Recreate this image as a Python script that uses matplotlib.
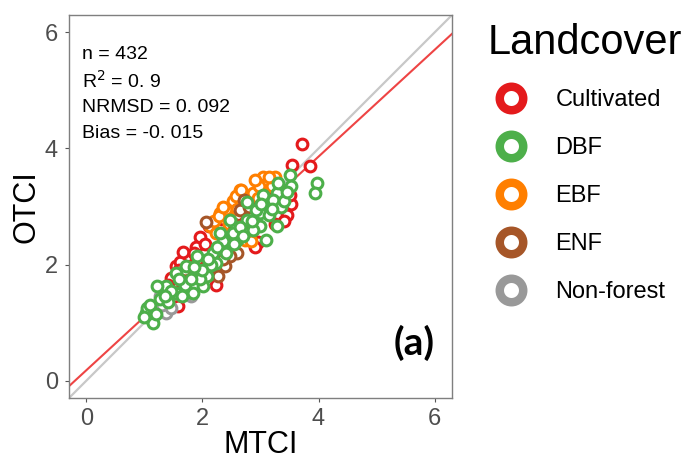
import matplotlib.pyplot as plt
from matplotlib.lines import Line2D

plt.rcParams['font.family'] = ['Liberation Sans', 'DejaVu Sans']

# --- data ---
cult_x = [3.72, 3.55, 3.86, 1.95, 1.74, 1.54, 1.45, 2.24, 2.95, 3.52, 3.45, 2.72, 2.34, 2.12,
          1.62, 1.35, 1.48, 2.45, 2.80, 3.10, 1.88, 2.60, 3.30, 1.70, 2.05, 3.40, 1.25, 2.50,
          1.66, 1.57, 1.30, 1.60, 1.85, 2.05, 3.25, 3.50, 2.90, 1.40]
cult_y = [4.07, 3.72, 3.70, 2.47, 2.15, 1.97, 1.77, 1.64, 2.38, 3.05, 2.86, 3.08, 2.78, 2.66,
          2.05, 1.55, 1.38, 2.60, 2.50, 3.20, 2.30, 2.85, 3.30, 1.80, 1.95, 2.75, 1.25, 2.20,
          2.21, 1.29, 1.45, 1.90, 2.20, 2.35, 2.70, 3.20, 2.30, 1.65]

ebf_x = [3.05, 3.25, 3.12, 2.64, 2.87, 2.53, 2.30, 2.13, 2.76, 2.24, 2.73, 2.84, 2.98, 2.58,
         2.40, 2.20, 2.95, 3.20, 2.67, 2.29, 2.45, 2.35, 2.60, 2.90, 3.15, 2.50, 2.80]
ebf_y = [3.51, 3.51, 3.40, 3.29, 3.23, 3.09, 2.89, 2.66, 3.00, 2.54, 2.43, 2.41, 3.35, 3.18,
         2.95, 2.75, 3.15, 3.35, 3.29, 2.84, 2.70, 3.00, 2.95, 3.45, 3.50, 2.55, 2.75]

enf_x = [2.06, 2.64, 2.72, 2.64, 2.59, 2.39, 2.27, 1.84, 1.95, 2.47, 2.70, 2.85, 1.70, 2.50,
         3.00, 1.65, 2.15, 2.35, 2.55, 2.80]
enf_y = [2.74, 2.94, 3.11, 2.54, 2.20, 1.97, 1.80, 1.86, 1.82, 2.14, 2.60, 2.85, 1.90, 2.35,
         3.05, 1.70, 1.95, 2.10, 2.70, 3.00]

nonf_x = [1.26, 1.38, 1.81, 1.15, 1.30, 1.60, 1.10, 1.45, 1.75]
nonf_y = [1.46, 1.17, 1.46, 1.11, 1.30, 1.50, 1.20, 1.25, 1.50]

dbf_x = [3.97, 3.94, 3.50, 3.52, 3.28, 3.22, 3.35, 3.28, 3.10, 2.99, 2.99, 2.87, 2.93, 2.76,
         2.76, 2.60, 2.53, 2.47, 2.24, 2.18, 2.07, 2.01, 1.84, 1.90, 1.72, 1.55, 1.38, 1.21,
         1.26, 1.03, 1.12, 1.15, 1.55, 1.70, 2.35, 3.05, 3.40, 2.15, 1.95, 2.30, 1.05, 1.40,
         3.15, 2.65, 1.10, 1.20, 1.45, 1.65, 1.80, 2.00, 2.10, 2.25, 2.40, 2.55, 2.70, 2.85,
         3.00, 3.20, 3.45, 3.30, 1.60, 1.35, 1.00, 1.85]
dbf_y = [3.40, 3.24, 3.54, 3.35, 3.23, 3.11, 3.00, 2.66, 2.43, 2.66, 2.89, 2.60, 2.94, 3.07,
         2.77, 2.43, 2.54, 2.77, 2.03, 2.20, 1.80, 1.63, 1.51, 2.14, 1.97, 1.86, 1.63, 1.63,
         1.40, 1.17, 1.06, 1.00, 1.51, 1.65, 2.40, 3.20, 3.10, 2.00, 1.75, 2.55, 1.25, 1.35,
         2.85, 2.65, 1.30, 1.15, 1.55, 1.45, 1.75, 1.90, 2.10, 2.30, 2.20, 2.35, 2.50, 2.75,
         3.05, 2.95, 3.25, 3.40, 1.75, 1.45, 1.10, 1.95]

landcovers = ['Cultivated', 'DBF', 'EBF', 'ENF', 'Non-forest']
colours = ['#E41A1C', '#4DAF4A', '#FF7F00', '#A65628', '#999999']

fit_slope, fit_icpt = 0.92, 0.18
stats = ['n = 432', r'R$^2$ = 0. 9', 'NRMSD = 0. 092', 'Bias = -0. 015']

# --- figure ---
fig = plt.figure(figsize=(6.97, 4.62), dpi=100)
ax = fig.add_axes([0.099, 0.1385, 0.5495, 0.829])

ax.axline((0, 0), slope=1, color='#C8C8C8', lw=1.6, zorder=1)
ax.axline((0, fit_icpt), slope=fit_slope, color='#EE4444', lw=1.5, zorder=1)

sets = {'Cultivated': (cult_x, cult_y), 'EBF': (ebf_x, ebf_y), 'ENF': (enf_x, enf_y),
        'Non-forest': (nonf_x, nonf_y), 'DBF': (dbf_x, dbf_y)}
for nimi, (xs, ys) in sets.items():
    c = colours[landcovers.index(nimi)]
    ax.scatter(xs, ys, s=60, facecolors='white', edgecolors=c, linewidths=2.2, zorder=2)

ax.set_xlim(-0.3, 6.3)
ax.set_ylim(-0.3, 6.3)
ax.set_xticks([0, 2, 4, 6])
ax.set_yticks([0, 2, 4, 6])
ax.tick_params(colors='#555555', labelcolor='#4D4D4D', labelsize=17, length=3, width=0.8)
ax.tick_params(axis='x', pad=4)
ax.tick_params(axis='y', pad=5)
for s in ax.spines.values():
    s.set_color('#7F7F7F')
    s.set_linewidth(1.0)
ax.set_xlabel('MTCI', fontsize=22, labelpad=0)
ax.set_ylabel('OTCI', fontsize=22, labelpad=2)

for i, t in enumerate(stats):
    ax.text(0.034, 0.898 - i * 0.0695, t, transform=ax.transAxes, fontsize=14, va='center')
ax.text(0.90, 0.144, '(a)', transform=ax.transAxes, fontsize=28, fontweight='bold',
        family='Lato', ha='center', va='center')

handles = [Line2D([], [], ls='none', marker='o', markersize=16.9, mfc='white', mec=c, mew=6.1)
           for c in colours]
leg = fig.legend(handles, landcovers, loc='upper left', bbox_to_anchor=(0.686, 0.97),
                 frameon=False, fontsize=17, title='Landcover', title_fontsize=30,
                 labelspacing=1.1, handletextpad=0.88, alignment='left', borderaxespad=0)

plt.savefig('out.png', dpi=100)
